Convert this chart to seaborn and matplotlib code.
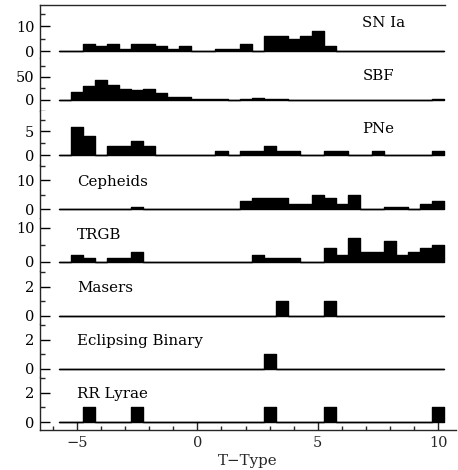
import numpy as np
import pandas as pd
import matplotlib
matplotlib.use("Agg")
import matplotlib.pyplot as plt
import matplotlib.transforms as mtransforms
import seaborn as sns

# ---- data -------------------------------------------------------------
t_centers = np.arange(-5.5, 10.01, 0.5)          # bin centres (T-Type)
bin_edges = [float(v) for v in np.arange(-5.75, 10.26, 0.5)]

methods = ["SN Ia", "SBF", "PNe", "Cepheids", "TRGB", "Masers",
           "Eclipsing Binary", "RR Lyrae"]

sn_ia    = [0, 0, 3, 2, 3, 1, 3, 3, 2, 1, 2, 0, 0, 1, 1, 3, 0, 6, 6, 5, 6, 8, 2, 0, 0, 0, 0, 0, 0, 0, 0, 0]
sbf      = [0, 18, 30, 44, 32, 24, 21, 23, 15, 5, 6, 2, 2, 1, 0, 2, 3, 1, 1, 0, 0, 0, 0, 0, 0, 0, 0, 0, 0, 0, 0, 2]
pne      = [0, 6, 4, 0, 2, 2, 3, 2, 0, 0, 0, 0, 0, 1, 0, 1, 1, 2, 1, 1, 0, 0, 1, 1, 0, 0, 1, 0, 0, 0, 0, 1]
cepheids = [0, 0, 0, 0, 0, 0, 1, 0, 0, 0, 0, 0, 0, 0, 0, 3, 4, 4, 4, 2, 2, 5, 4, 2, 5, 0, 0, 1, 1, 0, 2, 3]
trgb     = [0, 2, 1, 0, 1, 1, 3, 0, 0, 0, 0, 0, 0, 0, 0, 0, 2, 1, 1, 1, 0, 0, 4, 2, 7, 3, 3, 6, 2, 3, 4, 5]
masers   = [0, 0, 0, 0, 0, 0, 0, 0, 0, 0, 0, 0, 0, 0, 0, 0, 0, 0, 1, 0, 0, 0, 1, 0, 0, 0, 0, 0, 0, 0, 0, 0]
ecl_bin  = [0, 0, 0, 0, 0, 0, 0, 0, 0, 0, 0, 0, 0, 0, 0, 0, 0, 1, 0, 0, 0, 0, 0, 0, 0, 0, 0, 0, 0, 0, 0, 0]
rr_lyrae = [0, 0, 1, 0, 0, 0, 1, 0, 0, 0, 0, 0, 0, 0, 0, 0, 0, 1, 0, 0, 0, 0, 1, 0, 0, 0, 0, 0, 0, 0, 0, 1]

counts = [sn_ia, sbf, pne, cepheids, trgb, masers, ecl_bin, rr_lyrae]

ylims = [(-2.8, 18.4), (-25.5, 91), (-1.9, 9.2), (-2.8, 15.5),
         (-2.6, 12.9), (-0.55, 3.1), (-0.55, 3.1), (-0.55, 3.1)]
major_ticks = [[0, 10], [0, 50], [0, 5], [0, 10], [0, 10], [0, 2], [0, 2], [0, 2]]
minor_ticks = [[5, 15], [-25, 25, 75], [2.5, 7.5], [5, 15], [5], [1, 3], [1, 3], [1, 3]]
label_x = [6.85, 6.85, 6.85, -5.0, -5.0, -5.0, -5.0, -5.0]

df = pd.DataFrame({
    "method": np.repeat(methods, len(t_centers)),
    "T": np.tile(t_centers, len(methods)),
    "n": np.concatenate(counts).astype(float),
})

# ---- style -------------------------------------------------------------
sns.set_style("ticks")
plt.rcParams["font.family"] = ["DejaVu Serif"]
plt.rcParams["font.size"] = 10
plt.rcParams["axes.linewidth"] = 1.0

fig, axes = plt.subplots(len(methods), 1, figsize=(4.58, 4.70), dpi=100, sharex=True)
fig.subplots_adjust(left=0.0873, right=0.995, top=0.989, bottom=0.085, hspace=0)

xlim = (-6.54, 10.73)
for i, (ax, m) in enumerate(zip(axes, methods)):
    sub = df[df["method"] == m].reset_index(drop=True)
    sns.histplot(data=sub, x="T", weights="n", bins=bin_edges, element="step",
                 fill=True, color="black", alpha=1, linewidth=1.0, ax=ax)
    ax.set_xlim(*xlim)
    ax.set_ylim(*ylims[i])
    ax.set_yticks(major_ticks[i])
    ax.set_yticklabels([str(v) for v in major_ticks[i]])
    ax.set_yticks(minor_ticks[i], minor=True)
    ax.set_ylabel("")
    ax.tick_params(axis="y", which="major", direction="in", length=7, width=1,
                   labelsize=10.5, pad=4, colors="black")
    ax.tick_params(axis="y", which="minor", direction="in", length=3.6, width=1)
    ax.spines["right"].set_visible(False)
    ax.spines["top"].set_visible(i == 0)
    ax.spines["bottom"].set_visible(i == len(methods) - 1)
    if i == 0:
        ax.spines["top"].set_bounds(xlim[0], 10.27)
    if i < len(methods) - 1:
        ax.tick_params(axis="x", which="both", bottom=False, labelbottom=False)
    trans = mtransforms.blended_transform_factory(ax.transData, ax.transAxes)
    ax.text(label_x[i], 0.67, m, transform=trans, ha="left", va="center",
            fontsize=10.8, color="black")

axb = axes[-1]
axb.set_xticks([-5, 0, 5, 10])
axb.set_xticks(np.arange(-6, 11, 1), minor=True)
axb.tick_params(axis="x", which="major", direction="in", length=5.8, width=1,
                labelsize=10.5, pad=4)
axb.tick_params(axis="x", which="minor", direction="in", length=3, width=1)
axb.set_xlabel("T\u2212Type", fontsize=10.8, labelpad=3)

fig.savefig("out.png", dpi=100)
